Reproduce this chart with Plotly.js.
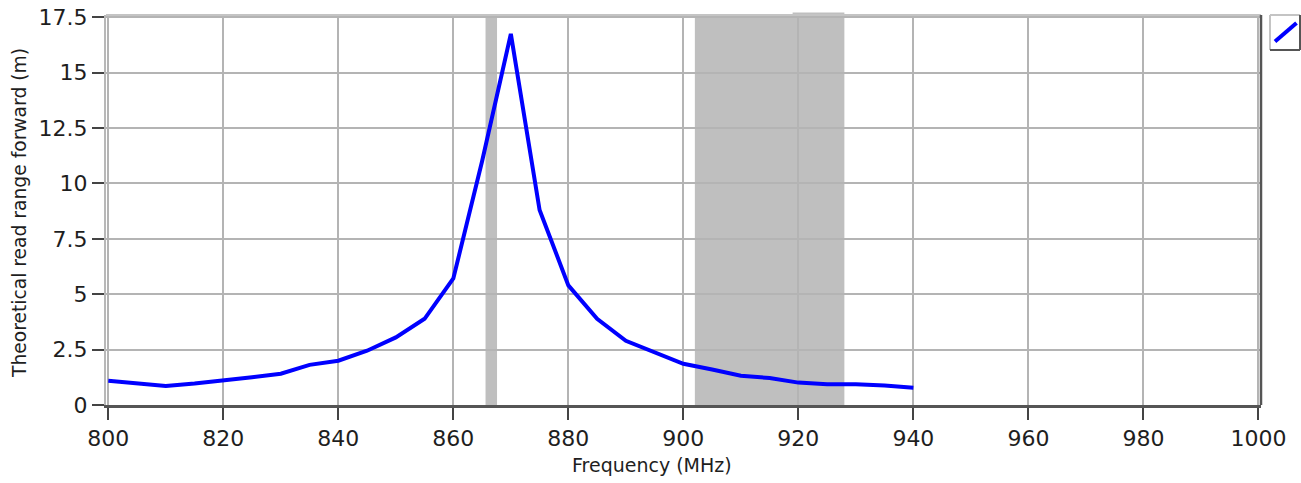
<!DOCTYPE html>
<html>
<head>
<meta charset="utf-8">
<script src="https://cdn.plot.ly/plotly-3.0.1.min.js"></script>
<style>html,body{margin:0;padding:0;background:#fff;}#chart{width:1301px;height:483px;}</style>
</head>
<body>
<div id="chart"></div>
<script>
// Frequency (MHz)
const frequency = [800, 805, 810, 815, 820, 825, 830, 835, 840, 845, 850, 855, 860, 865, 870, 875, 880, 885, 890, 895, 900, 905, 910, 915, 920, 925, 930, 935, 940];
// Theoretical read range forward (m)
const readRange = [1.09, 0.97, 0.86, 0.97, 1.09, 1.25, 1.41, 1.81, 2.0, 2.45, 3.05, 3.89, 5.71, 11.0, 16.75, 8.8, 5.4, 3.89, 2.9, 2.4, 1.86, 1.6, 1.32, 1.22, 1.01, 0.94, 0.94, 0.88, 0.78];
// Regulatory frequency bands (MHz)
const bandStart = [865.6, 902];
const bandEnd = [867.6, 928];
const xTicks = [800, 820, 840, 860, 880, 900, 920, 940, 960, 980, 1000];
const yTicks = [0, 2.5, 5, 7.5, 10, 12.5, 15, 17.5];

const W = 1301, H = 483;
const L = 106, R = 1261, T = 15, B = 405;
const px = x => (x - L) / (R - L);
const py = y => (B - y) / (B - T);

const shapes = [];
for (let i = 0; i < bandStart.length; i++) {
  shapes.push({type: 'rect', xref: 'x', yref: 'paper', x0: bandStart[i], x1: bandEnd[i], y0: 0, y1: 1,
    fillcolor: '#bfbfbf', line: {width: 0}, layer: 'below'});
}
// small band tab above frame
shapes.push({type: 'rect', xref: 'x', yref: 'paper', x0: 919, x1: 928, y0: 1, y1: py(12.5),
  fillcolor: '#bfbfbf', line: {width: 0}, layer: 'above'});
// frame top (light) and right (dark)
shapes.push({type: 'line', xref: 'paper', yref: 'paper', x0: 0, x1: 1, y0: 1, y1: 1, line: {color: '#c4c4c4', width: 2}});
shapes.push({type: 'line', xref: 'paper', yref: 'paper', x0: 1, x1: 1, y0: 0, y1: 1, line: {color: '#555555', width: 2.5}});
// legend box
shapes.push({type: 'line', xref: 'paper', yref: 'paper', x0: px(1270), x1: px(1270), y0: py(15), y1: py(50), line: {color: '#c4c4c4', width: 2}});
shapes.push({type: 'line', xref: 'paper', yref: 'paper', x0: px(1270), x1: px(1300), y0: py(15), y1: py(15), line: {color: '#c4c4c4', width: 2}});
shapes.push({type: 'line', xref: 'paper', yref: 'paper', x0: px(1270), x1: px(1300), y0: py(50), y1: py(50), line: {color: '#555555', width: 2}});
shapes.push({type: 'line', xref: 'paper', yref: 'paper', x0: px(1300), x1: px(1300), y0: py(15), y1: py(50), line: {color: '#555555', width: 2}});
shapes.push({type: 'line', xref: 'paper', yref: 'paper', x0: px(1275), x1: px(1296.5), y0: py(41.5), y1: py(23), line: {color: '#0000ff', width: 4}});

const trace = {
  x: frequency, y: readRange, type: 'scatter', mode: 'lines',
  line: {color: '#0000ff', width: 4}, showlegend: false, hoverinfo: 'skip'
};

const font = {family: 'DejaVu Sans, Verdana, sans-serif', color: '#1e1e1e'};

const layout = {
  width: W, height: H,
  margin: {l: L, r: W - R, t: T, b: H - B, pad: 0},
  paper_bgcolor: '#ffffff', plot_bgcolor: '#ffffff',
  showlegend: false,
  font: Object.assign({size: 22}, font),
  xaxis: {
    range: [799.6, 1000.45], tickvals: xTicks, ticktext: xTicks.map(String),
    showgrid: true, gridcolor: '#b4b4b4', gridwidth: 2,
    showline: true, linecolor: '#555555', linewidth: 2.5,
    ticks: 'outside', ticklen: 12, tickwidth: 2, tickcolor: '#444444',
    tickfont: Object.assign({size: 22}, font), zeroline: false, fixedrange: true
  },
  yaxis: {
    range: [0, 17.6], tickvals: yTicks, ticktext: yTicks.map(String),
    showgrid: true, gridcolor: '#b4b4b4', gridwidth: 2,
    showline: true, linecolor: '#b8b8b8', linewidth: 2,
    ticks: 'outside', ticklen: 12, tickwidth: 2, tickcolor: '#444444',
    tickfont: Object.assign({size: 22}, font), zeroline: false, fixedrange: true
  },
  shapes: shapes,
  annotations: [
    {text: 'Frequency (MHz)', xref: 'paper', yref: 'paper', x: px(652), y: py(465),
     xanchor: 'center', yanchor: 'middle', showarrow: false, font: Object.assign({size: 19}, font)},
    {text: 'Theoretical read range forward (m)', xref: 'paper', yref: 'paper', x: px(19), y: py(213),
     xanchor: 'center', yanchor: 'middle', textangle: -90, showarrow: false, font: Object.assign({size: 18.7}, font)}
  ]
};

Plotly.newPlot('chart', [trace], layout, {staticPlot: true, displayModeBar: false});
</script>
</body>
</html>
